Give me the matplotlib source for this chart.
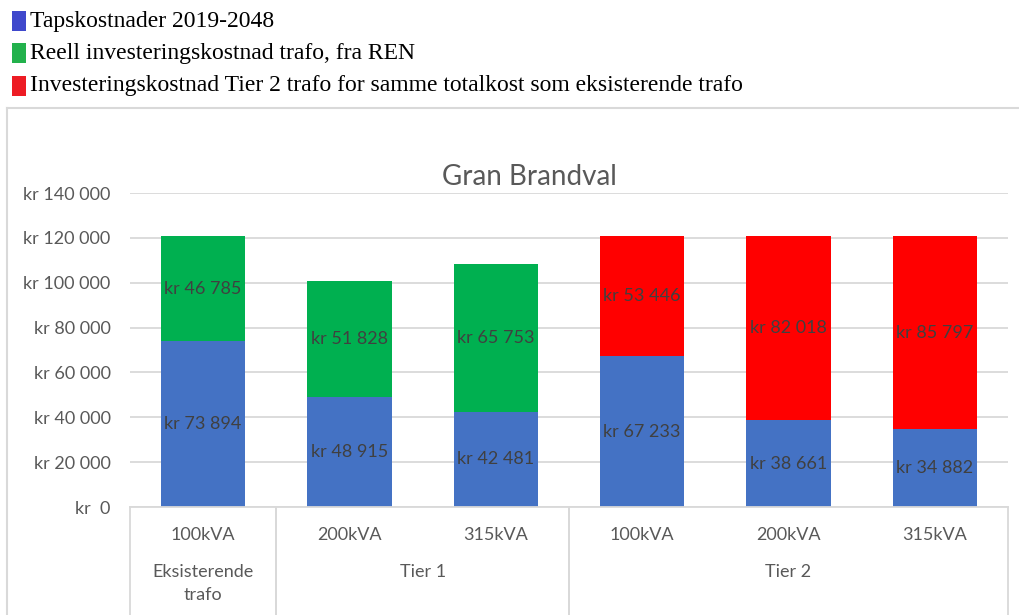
import matplotlib
matplotlib.use("Agg")
import matplotlib.pyplot as plt
from matplotlib.lines import Line2D
from matplotlib.patches import Rectangle
import matplotlib.transforms as mtransforms

sub_labels = ["100kVA", "200kVA", "315kVA", "100kVA", "200kVA", "315kVA"]
group_labels = ["Eksisterende\ntrafo", "Tier 1", "Tier 2"]
group_spans = [(0, 1), (1, 3), (3, 6)]
tapskost = [73894, 48915, 42481, 67233, 38661, 34882]
reell_inv = [46785, 51828, 65753, 0, 0, 0]
tier2_inv = [0, 0, 0, 53446, 82018, 85797]
legend_labels = ["Tapskostnader 2019-2048",
                 "Reell investeringskostnad trafo, fra REN",
                 "Investeringskostnad Tier 2 trafo for samme totalkost som eksisterende trafo"]
legend_colors = ["#3F48CC", "#22B14C", "#ED1C24"]
yticks = [0, 20000, 40000, 60000, 80000, 100000, 120000, 140000]

W, H = 1020, 615
fig = plt.figure(figsize=(W / 100, H / 100), dpi=100)
fig.patch.set_facecolor("white")

def fx(px):
    return px / W

def fy(py):
    return 1 - py / H

# chart border
fig.add_artist(Line2D([fx(7), fx(7)], [fy(108), fy(615)], color="#D9D9D9", lw=1.5))
fig.add_artist(Line2D([fx(7), fx(1020)], [fy(108), fy(108)], color="#D9D9D9", lw=1.5))

# legend above chart
leg_y = [21, 53, 86]
for lab, col, yy in zip(legend_labels, legend_colors, leg_y):
    fig.add_artist(Rectangle((fx(12), fy(yy + 10)), fx(14), 20 / H,
                             facecolor=col, edgecolor="none"))
    fig.text(fx(30), fy(yy), lab, family="Liberation Serif", fontsize=17,
             va="center", ha="left", color="black")

ax = fig.add_axes([fx(130), fy(507), fx(1008) - fx(130), (507 - 193) / H])
x = list(range(len(sub_labels)))
bw = 0.575
blue = "#4472C4"
green = "#00B050"
red = "#FF0000"
ax.bar(x, tapskost, width=bw, color=blue, zorder=3)
ax.bar(x, reell_inv, width=bw, bottom=tapskost, color=green, zorder=3)
ax.bar(x, tier2_inv, width=bw, bottom=tapskost, color=red, zorder=3)

def fmt(v):
    return "kr " + f"{v:,}".replace(",", " ")

lblfont = dict(family="Lato", fontsize=13, color="#404040", ha="center", va="center", zorder=4)
for i in x:
    ax.text(i, tapskost[i] / 2, fmt(tapskost[i]), **lblfont)
    if reell_inv[i]:
        ax.text(i, tapskost[i] + reell_inv[i] / 2, fmt(reell_inv[i]), **lblfont)
    if tier2_inv[i]:
        ax.text(i, tapskost[i] + tier2_inv[i] / 2, fmt(tier2_inv[i]), **lblfont)

ax.set_xlim(-0.5, len(x) - 0.5)
ax.set_ylim(0, 140000)
ax.set_yticks(yticks)
ax.set_yticklabels(["kr  0" if v == 0 else fmt(v) for v in yticks],
                   family="Lato", fontsize=13, color="#595959")
ax.tick_params(axis="y", length=0, pad=14)
ax.set_xticks([])
for s in ax.spines.values():
    s.set_visible(False)
ax.grid(axis="y", color="#D9D9D9", lw=1.3, zorder=0)
ax.set_axisbelow(True)

ax.set_title("Gran Brandval", family="Lato", fontsize=20, color="#595959", pad=6)
ax.title.set_position((0.455, 1.0))

# multi-level category axis
trans = mtransforms.blended_transform_factory(ax.transData, ax.transAxes)
axis_col = "#D9D9D9"
ax.add_line(Line2D([-0.5, len(x) - 0.5], [0, 0], transform=trans, color=axis_col,
                   lw=1.3, clip_on=False, zorder=5))
bottom_ax = -(615 - 507) / (507 - 193)
for a, b in group_spans:
    for edge in (a - 0.5, b - 0.5):
        ax.add_line(Line2D([edge, edge], [0, bottom_ax], transform=trans, color=axis_col,
                           lw=1.3, clip_on=False))
sub_y = -(535 - 507) / (507 - 193)
for i, lab in enumerate(sub_labels):
    ax.text(i, sub_y, lab, transform=trans, family="Lato", fontsize=13,
            color="#595959", ha="center", va="center")
for (a, b), lab in zip(group_spans, group_labels):
    ax.text((a + b - 1) / 2, -(564 - 507) / (507 - 193), lab, transform=trans,
            family="Lato", fontsize=13, color="#595959", ha="center", va="top",
            linespacing=1.5)

fig.savefig("out.png", dpi=100, facecolor="white")
